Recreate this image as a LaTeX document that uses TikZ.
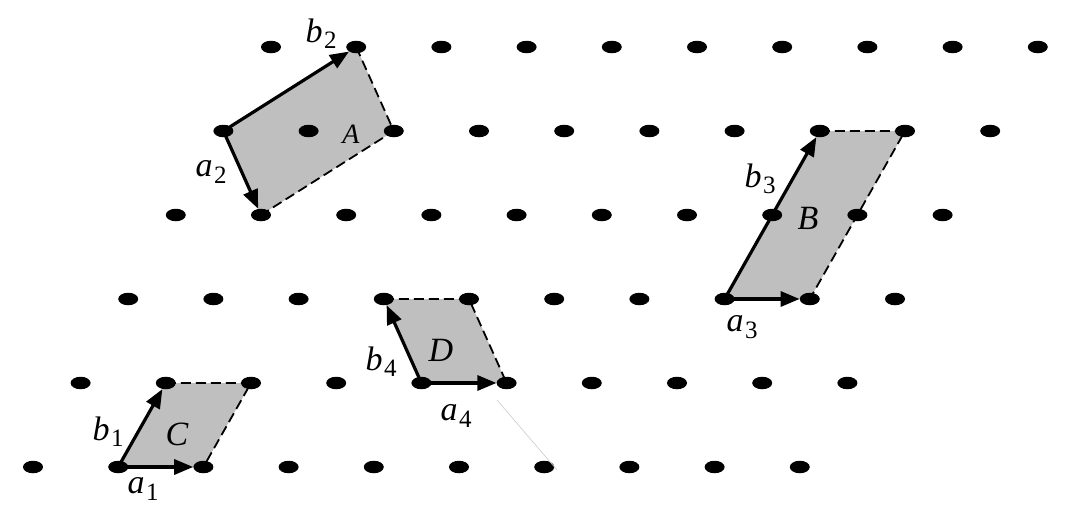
\documentclass[tikz,border=0pt]{standalone}
\usepackage{fontspec}
\setmainfont{Liberation Serif}
\usetikzlibrary{arrows.meta,shapes.geometric,backgrounds}
\tikzset{
 dot/.style={ellipse,fill=black,inner sep=0pt,minimum width=20pt,minimum height=12.5pt},
 vec/.style={line width=3.2pt,-{Triangle[length=19pt,width=15pt]}},
 side/.style={line width=1.8pt,dash pattern=on 10pt off 5pt},
 cell/.style={fill=black!25},
 lab/.style={font=\fontsize{34}{38}\selectfont\itshape, inner sep=0pt},
 labA/.style={font=\fontsize{28}{32}\selectfont\itshape, inner sep=0pt},
}
\newcommand{\vl}[2]{#1\kern1.5pt\raisebox{-0.4ex}{\upshape\fontsize{25}{28}\selectfont #2}}
\begin{document}
\begin{tikzpicture}[x=1pt,y=-1pt]
\useasboundingbox (0,0) rectangle (1068,506);
\foreach \i in {0,...,9} \foreach \j in {0,...,5}
  \node[dot] (d-\i-\j) at ({33+85.2*\i+47.6*\j},{467-84*\j}) {};
\begin{scope}[on background layer]
\fill[cell] (d-1-0.center) -- (d-2-0.center) -- (d-2-1.center) -- (d-1-1.center) -- cycle;
\fill[cell] (d-4-1.center) -- (d-5-1.center) -- (d-4-2.center) -- (d-3-2.center) -- cycle;
\fill[cell] (d-7-2.center) -- (d-8-2.center) -- (d-8-4.center) -- (d-7-4.center) -- cycle;
\fill[cell] (d-0-4.center) -- (d-1-3.center) -- (d-2-4.center) -- (d-1-5.center) -- cycle;
\end{scope}
% dashed sides
\draw[side] (d-1-1.center) -- (d-2-1.center) -- (d-2-0.center);
\draw[side] (d-3-2.center) -- (d-4-2.center) -- (d-5-1.center);
\draw[side] (d-7-4.center) -- (d-8-4.center) -- (d-8-2.center);
\draw[side] (d-1-5.center) -- (d-2-4.center) -- (d-1-3.center);
% basis vectors
\draw[vec] (d-1-0.center) -- (d-2-0);
\draw[vec] (d-1-0.center) -- (d-1-1);
\draw[vec] (d-4-1.center) -- (d-5-1);
\draw[vec] (d-4-1.center) -- (d-3-2);
\draw[vec] (d-7-2.center) -- (d-8-2);
\draw[vec] (d-7-2.center) -- (d-7-4);
\draw[vec] (d-0-4.center) -- (d-1-3);
\draw[vec] (d-0-4.center) -- (d-1-5);
% labels
\node[lab] (lb2) at (321,34) {\vl{b}{2}};
\node[labA] (lA) at (351,134) {A};
\node[lab] (la2) at (211,172) {\vl{a}{2}};
\node[lab] (lb3) at (760,179) {\vl{b}{3}};
\node[lab] (lB) at (808,218) {B};
\node[lab] (la3) at (742,327) {\vl{a}{3}};
\node[lab] (lD) at (441,350) {D};
\node[lab] (lb4) at (381,362) {\vl{b}{4}};
\node[lab] (la4) at (456,416) {\vl{a}{4}};
\node[lab] (lC) at (177,434) {C};
\node[lab] (lb1) at (108,432) {\vl{b}{1}};
\node[lab] (la1) at (143,489) {\vl{a}{1}};
% faint scan mark
\draw[black!20, line width=0.6pt] (497,400) -- (557,470);
\end{tikzpicture}
\end{document}
